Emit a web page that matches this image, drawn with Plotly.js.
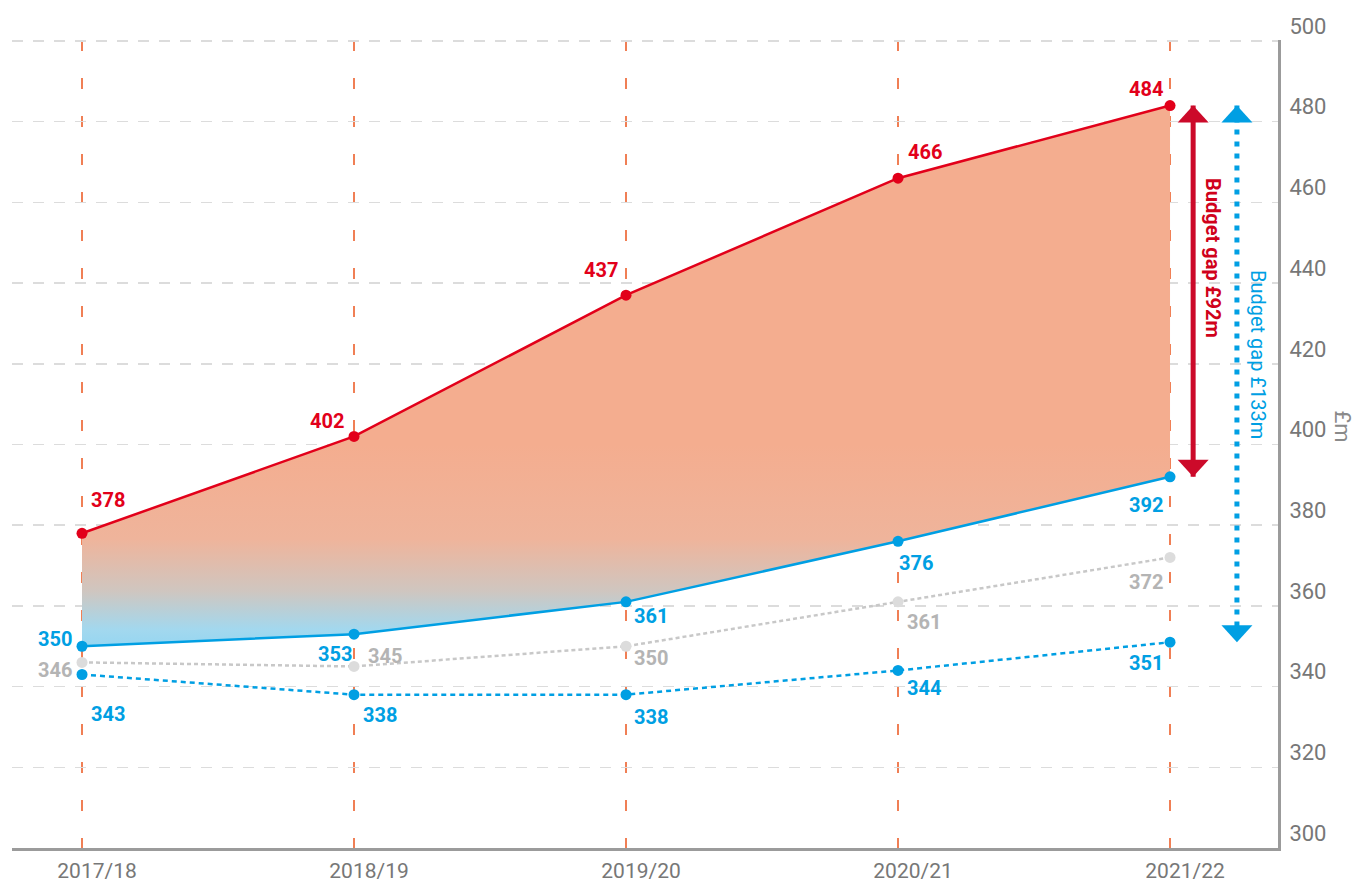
<!DOCTYPE html>
<html>
<head>
<meta charset="utf-8">
<script src="https://cdn.plot.ly/plotly-3.0.1.min.js"></script>
<style>html,body{margin:0;padding:0;background:#fff;}#chart{width:1356px;height:886px;}</style>
</head>
<body>
<div id="chart"></div>
<script>
// ---- data ----
const years = ["2017/18", "2018/19", "2019/20", "2020/21", "2021/22"];
const spending = [378, 402, 437, 466, 484];          // red solid
const fundingA = [350, 353, 361, 376, 392];          // blue solid
const fundingGrey = [346, 345, 350, 361, 372];       // grey dotted
const fundingB = [343, 338, 338, 344, 351];          // blue dotted
const yTicks = [300, 320, 340, 360, 380, 400, 420, 440, 460, 480, 500];

// label offsets in px (style only)
const redOff   = [[26,33],[-27,15],[-25,25],[27,26],[-24,17]];
const blueOff  = [[-27,7],[-19,-20],[25,-14],[18,-22],[-24,-28]];
const greyOff  = [[-27,-8],[31,10],[25,-12],[26,-20],[-24,-25]];
const blueBOff = [[26,-39],[26,-20],[25,-22],[26,-18],[-24,-21]];

const RED = '#e2001a', BLUE = '#009fe3', GREY = '#c8c8c8', GREYTXT = '#b4b4b4';
const FONT = 'Roboto, "DejaVu Sans", sans-serif';

const traces = [
  {x: years, y: fundingA, type: 'scatter', mode: 'lines+markers',
   line: {color: BLUE, width: 2.5}, marker: {color: BLUE, size: 11}, hoverinfo: 'skip'},
  {x: years, y: spending, type: 'scatter', mode: 'lines+markers', fill: 'tonexty',
   fillgradient: {type: 'vertical', start: 348, stop: 400,
     colorscale: [[0, '#8fd5f3'], [0.12, '#a3d8ee'], [0.3, '#cfc6c0'], [0.55, '#efb49b'], [1, '#f4ad8f']]},
   line: {color: RED, width: 2.5}, marker: {color: RED, size: 11}, hoverinfo: 'skip'},
  {x: years, y: fundingGrey, type: 'scatter', mode: 'lines+markers',
   line: {color: GREY, width: 2.5, dash: '4px,3px'}, marker: {color: '#dcdcdc', size: 11}, hoverinfo: 'skip'},
  {x: years, y: fundingB, type: 'scatter', mode: 'lines+markers',
   line: {color: BLUE, width: 2.5, dash: '5px,4px'}, marker: {color: BLUE, size: 11}, hoverinfo: 'skip'}
];

const annotations = [];
function addLabels(vals, offs, color) {
  vals.forEach((v, i) => annotations.push({
    x: years[i], y: v, text: String(v), showarrow: false,
    xshift: offs[i][0], yshift: offs[i][1],
    font: {family: FONT, size: 20, color: color, weight: 'bold'}
  }));
}
addLabels(spending, redOff, RED);
addLabels(fundingA, blueOff, BLUE);
addLabels(fundingGrey, greyOff, GREYTXT);
addLabels(fundingB, blueBOff, BLUE);

const redX = 4.085, blueX = 4.246;
const last = years.length - 1;
annotations.push({x: 4.158, y: 446.2, xref: 'x', yref: 'y', xanchor: 'center', yanchor: 'middle',
  text: 'Budget gap £' + (spending[last] - fundingA[last]) + 'm',
  textangle: 90, showarrow: false, font: {family: FONT, size: 20, color: '#d0021b', weight: 'bold'}});
annotations.push({x: 4.324, y: 422.4, xref: 'x', yref: 'y', xanchor: 'center', yanchor: 'middle',
  text: 'Budget gap £' + (spending[last] - fundingB[last]) + 'm',
  textangle: 90, showarrow: false, font: {family: FONT, size: 20, color: BLUE}});
annotations.push({x: 1.0513, y: 0.5217, xref: 'paper', yref: 'paper', xanchor: 'center', yanchor: 'middle',
  text: '£m', textangle: 90, showarrow: false, font: {family: FONT, size: 22, color: '#8a8a8a'}});

function tri(x, y, up, color) {
  const h = up ? -17 : 17;
  return {type: 'path', xref: 'x', yref: 'y', xsizemode: 'pixel', ysizemode: 'pixel',
    xanchor: x, yanchor: y, path: `M0,0 L-15.5,${h} L15.5,${h} Z`,
    fillcolor: color, line: {width: 0}, layer: 'above'};
}
const DRED = '#cc0a2a';
const shapes = [
  {type: 'line', xref: 'x', yref: 'y', x0: redX, x1: redX, y0: spending[last], y1: fundingA[last],
   line: {color: DRED, width: 5}, layer: 'above'},
  tri(redX, spending[last], true, DRED),
  tri(redX, fundingA[last], false, DRED),
  {type: 'line', xref: 'x', yref: 'y', x0: blueX, x1: blueX, y0: spending[last], y1: fundingB[last],
   line: {color: BLUE, width: 5, dash: '5px,7px'}, layer: 'above'},
  tri(blueX, spending[last], true, BLUE),
  tri(blueX, fundingB[last], false, BLUE)
];

const layout = {
  width: 1356, height: 886,
  margin: {l: 12, r: 78, t: 40, b: 38},
  paper_bgcolor: '#fff', plot_bgcolor: '#fff',
  showlegend: false,
  font: {family: FONT},
  xaxis: {
    type: 'category', range: [-0.2574, 4.397],
    showgrid: true, gridcolor: '#f07f55', gridwidth: 1.5, griddash: '11px,27px',
    showline: true, linecolor: '#9b9b9b', linewidth: 3,
    ticks: '', ticklabelshift: 15, ticklabelstandoff: 2,
    tickfont: {family: FONT, size: 21, color: '#777'}, zeroline: false, fixedrange: true
  },
  yaxis: {
    side: 'right', range: [300, 500.25], tickvals: yTicks,
    showgrid: true, gridcolor: '#dcdcdc', gridwidth: 1.5, griddash: '11px,10px',
    showline: true, linecolor: '#9b9b9b', linewidth: 3,
    ticks: '', ticklabelshift: -15, ticklabelstandoff: 4,
    tickfont: {family: FONT, size: 22, color: '#777'}, zeroline: false, fixedrange: true
  },
  annotations: annotations,
  shapes: shapes
};

Plotly.newPlot('chart', traces, layout, {displayModeBar: false, staticPlot: true});
</script>
</body>
</html>
